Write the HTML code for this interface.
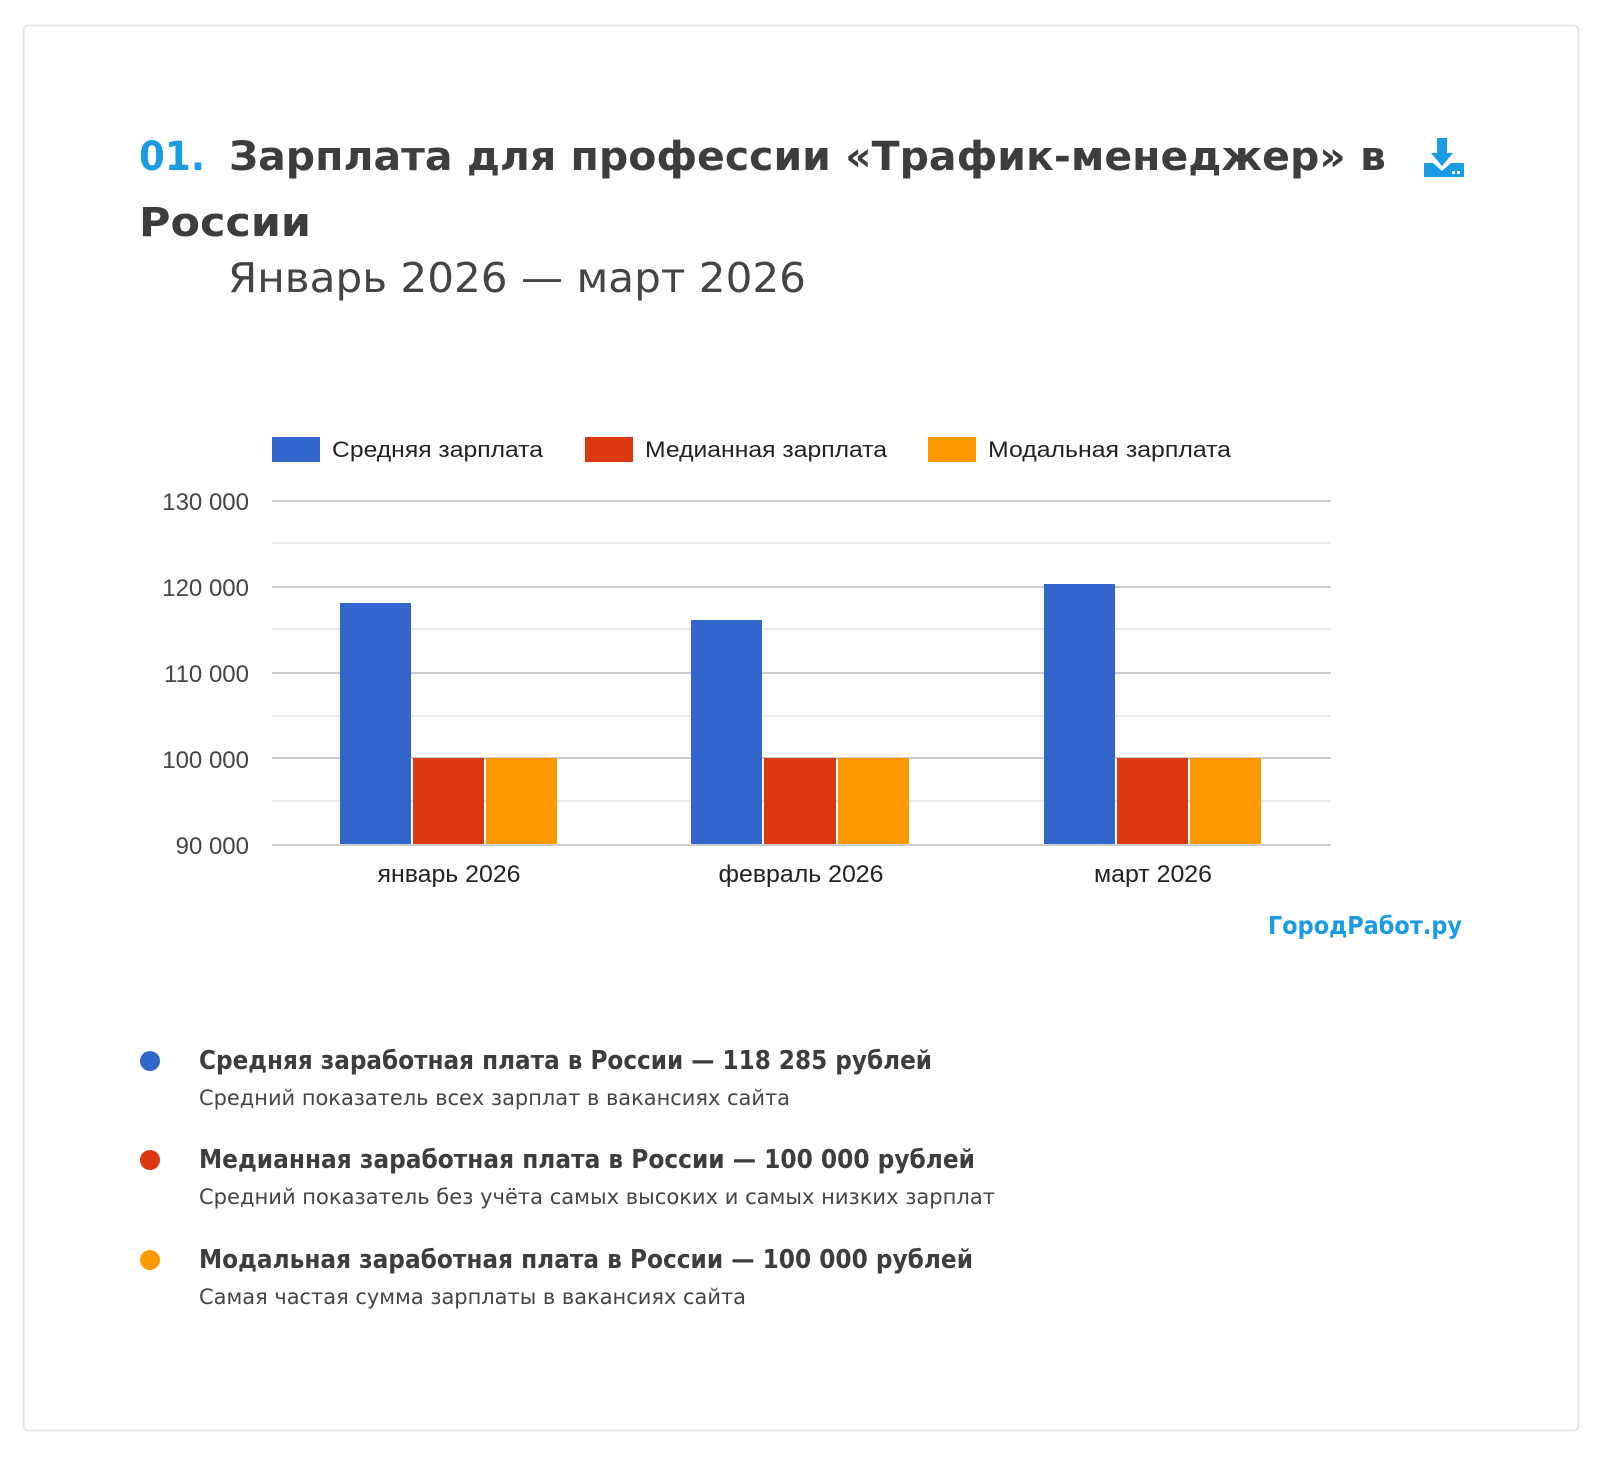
<!DOCTYPE html>
<html><head><meta charset="utf-8"><style>
html,body{margin:0;padding:0;background:#fff;}
svg{display:block;}
</style></head><body>
<svg width="1600" height="1458" viewBox="0 0 1600 1458" xmlns="http://www.w3.org/2000/svg" font-family="'DejaVu Sans','Liberation Sans',sans-serif">
<rect x="23.5" y="25.5" width="1555" height="1405" rx="5" fill="#fff" stroke="#e6e6e6" stroke-width="2"/>
<text x="139" y="170" font-size="40" font-weight="bold" fill="#1a9be6" textLength="66" lengthAdjust="spacingAndGlyphs">01.</text>
<text x="229" y="170" font-size="40" font-weight="bold" fill="#3d3d3d" textLength="1157" lengthAdjust="spacingAndGlyphs">Зарплата для профессии «Трафик-менеджер» в</text>
<text x="139" y="236" font-size="40" font-weight="bold" fill="#3d3d3d" textLength="172" lengthAdjust="spacingAndGlyphs">России</text>
<text x="228" y="292" font-size="41" fill="#444" textLength="578" lengthAdjust="spacingAndGlyphs">Январь 2026 — март 2026</text>
<g fill="#1a9be6">
<rect x="1437" y="138" width="10" height="17"/>
<polygon points="1431,153 1453,153 1442,166"/>
<path d="M1424 163 L1433 163 L1442 171 L1451 163 L1464 163 L1464 177 L1424 177 Z"/>
</g>
<rect x="1452" y="171" width="3" height="3" fill="#fff"/><rect x="1457" y="171" width="3" height="3" fill="#fff"/>
<g font-family="'Liberation Sans',sans-serif" font-size="22" fill="#222">
<rect x="272" y="437" width="48" height="25" fill="#3366cc"/>
<text x="332" y="457" textLength="211" lengthAdjust="spacingAndGlyphs">Средняя зарплата</text>
<rect x="585" y="437" width="48" height="25" fill="#dc3912"/>
<text x="645" y="457" textLength="242" lengthAdjust="spacingAndGlyphs">Медианная зарплата</text>
<rect x="928" y="437" width="48" height="25" fill="#ff9900"/>
<text x="988" y="457" textLength="243" lengthAdjust="spacingAndGlyphs">Модальная зарплата</text>
</g>
<g stroke="#ebebeb" stroke-width="2">
<line x1="272" x2="1331" y1="543" y2="543"/><line x1="272" x2="1331" y1="629" y2="629"/>
<line x1="272" x2="1331" y1="716" y2="716"/><line x1="272" x2="1331" y1="801" y2="801"/>
</g>
<g stroke="#cccccc" stroke-width="2">
<line x1="272" x2="1331" y1="501" y2="501"/><line x1="272" x2="1331" y1="587" y2="587"/>
<line x1="272" x2="1331" y1="673" y2="673"/><line x1="272" x2="1331" y1="758" y2="758"/>
</g>
<g font-family="'Liberation Sans',sans-serif" font-size="24" fill="#444" text-anchor="end">
<text x="249" y="510">130 000</text><text x="249" y="596">120 000</text>
<text x="249" y="682">110 000</text><text x="249" y="768">100 000</text><text x="249" y="854">90 000</text>
</g>
<g>
<rect x="340" y="603" width="71" height="242" fill="#3366cc"/>
<rect x="413" y="758" width="71" height="87" fill="#dc3912"/>
<rect x="486" y="758" width="71" height="87" fill="#ff9900"/>
<rect x="691" y="620" width="71" height="225" fill="#3366cc"/>
<rect x="764" y="758" width="72" height="87" fill="#dc3912"/>
<rect x="838" y="758" width="71" height="87" fill="#ff9900"/>
<rect x="1044" y="584" width="71" height="261" fill="#3366cc"/>
<rect x="1117" y="758" width="71" height="87" fill="#dc3912"/>
<rect x="1190" y="758" width="71" height="87" fill="#ff9900"/>
</g>
<line x1="272" x2="1331" y1="845" y2="845" stroke="#cccccc" stroke-width="2"/>
<g font-family="'Liberation Sans',sans-serif" font-size="24" fill="#222" text-anchor="middle">
<text x="449" y="882" textLength="143" lengthAdjust="spacingAndGlyphs">январь 2026</text>
<text x="801" y="882" textLength="165" lengthAdjust="spacingAndGlyphs">февраль 2026</text>
<text x="1153" y="882" textLength="118" lengthAdjust="spacingAndGlyphs">март 2026</text>
</g>
<text x="1268" y="934" font-size="25" font-weight="bold" fill="#1a9be6" textLength="194" lengthAdjust="spacingAndGlyphs">ГородРабот.ру</text>
<circle cx="150" cy="1061" r="10" fill="#3366cc"/>
<circle cx="150" cy="1160" r="10" fill="#dc3912"/>
<circle cx="150" cy="1260" r="10" fill="#ff9900"/>
<g fill="#3d3d3d">
<text x="199" y="1069" font-size="26" font-weight="bold" textLength="733" lengthAdjust="spacingAndGlyphs">Средняя заработная плата в России — 118 285 рублей</text>
<text x="199" y="1105" font-size="21" fill="#444" textLength="591" lengthAdjust="spacingAndGlyphs">Средний показатель всех зарплат в вакансиях сайта</text>
<text x="199" y="1168" font-size="26" font-weight="bold" textLength="776" lengthAdjust="spacingAndGlyphs">Медианная заработная плата в России — 100 000 рублей</text>
<text x="199" y="1204" font-size="21" fill="#444" textLength="796" lengthAdjust="spacingAndGlyphs">Средний показатель без учёта самых высоких и самых низких зарплат</text>
<text x="199" y="1268" font-size="26" font-weight="bold" textLength="774" lengthAdjust="spacingAndGlyphs">Модальная заработная плата в России — 100 000 рублей</text>
<text x="199" y="1304" font-size="21" fill="#444" textLength="547" lengthAdjust="spacingAndGlyphs">Самая частая сумма зарплаты в вакансиях сайта</text>
</g>
</svg>
</body></html>
